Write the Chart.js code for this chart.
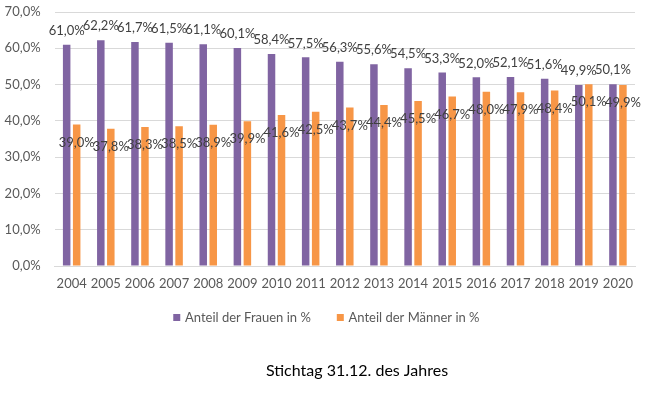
<!DOCTYPE html>
<html>
<head>
<meta charset="utf-8">
<script src="https://cdn.jsdelivr.net/npm/chart.js@4"></script>
<style>
html,body{margin:0;padding:0;background:#fff;}
#wrap{width:649px;height:393px;position:relative;}
</style>
</head>
<body>
<div id="wrap"><canvas id="c" width="649" height="393"></canvas></div>
<script>
const years = ['2004','2005','2006','2007','2008','2009','2010','2011','2012','2013','2014','2015','2016','2017','2018','2019','2020'];
const frauen = [61.0,62.2,61.7,61.5,61.1,60.1,58.4,57.5,56.3,55.6,54.5,53.3,52.0,52.1,51.6,49.9,50.1];
const maenner = [39.0,37.8,38.3,38.5,38.9,39.9,41.6,42.5,43.7,44.4,45.5,46.7,48.0,47.9,48.4,50.1,49.9];
const seriesNames = ['Anteil der Frauen in %','Anteil der Männer in %'];
const seriesColors = ['#8064A2','#F79646'];
const yTicks = [0,10,20,30,40,50,60,70];
const footTitle = 'Stichtag 31.12. des Jahres';

const fmt = v => v.toFixed(1).replace('.', ',') + '%';
const FONT = 'Lato, "Open Sans", sans-serif';

const labelPlugin = {
  id: 'barLabels',
  afterDatasetsDraw(chart) {
    const ctx = chart.ctx;
    ctx.save();
    ctx.font = '13px ' + FONT;
    ctx.fillStyle = '#404040';
    ctx.textAlign = 'center';
    ctx.textBaseline = 'middle';
    chart.data.datasets.forEach((ds, di) => {
      const meta = chart.getDatasetMeta(di);
      meta.data.forEach((el, i) => {
        const off = di === 0 ? -14 : 18;
        ctx.fillText(fmt(ds.data[i]), el.x, el.y + off);
      });
    });
    ctx.restore();
  }
};

const legendPlugin = {
  id: 'customLegend',
  afterDraw(chart) {
    const ctx = chart.ctx;
    ctx.save();
    ctx.font = '13px ' + FONT;
    ctx.textBaseline = 'middle';
    ctx.textAlign = 'left';
    const box = 7, gapText = 4.7, gapItem = 26, cy = 317.5, cx = 326.4;
    const items = chart.data.datasets.map(ds => ({ text: ds.label, color: ds.backgroundColor, w: ctx.measureText(ds.label).width }));
    let total = 0;
    items.forEach((it, i) => { total += box + gapText + it.w + (i ? gapItem : 0); });
    let x = cx - total / 2;
    items.forEach(it => {
      ctx.fillStyle = it.color;
      ctx.fillRect(x, cy - box / 2, box, box);
      ctx.fillStyle = '#595959';
      ctx.fillText(it.text, x + box + gapText, cy);
      x += box + gapText + it.w + gapItem;
    });
    ctx.font = '16px ' + FONT;
    ctx.fillStyle = '#000';
    ctx.textAlign = 'center';
    ctx.textBaseline = 'alphabetic';
    ctx.fillText(footTitle, 357, 376);
    ctx.restore();
  }
};

new Chart(document.getElementById('c'), {
  type: 'bar',
  data: {
    labels: years,
    datasets: [
      { label: seriesNames[0], data: frauen, backgroundColor: seriesColors[0], barPercentage: 0.75, categoryPercentage: 0.586 },
      { label: seriesNames[1], data: maenner, backgroundColor: seriesColors[1], barPercentage: 0.75, categoryPercentage: 0.586 }
    ]
  },
  options: {
    responsive: false,
    animation: false,
    devicePixelRatio: 1,
    layout: { padding: { top: 12, right: 14, left: 0, bottom: 97 } },
    plugins: {
      legend: { display: false },
      tooltip: { enabled: false },
      title: { display: false }
    },
    scales: {
      x: {
        grid: { display: false },
        border: { display: true, color: '#d9d9d9' },
        ticks: { color: '#595959', font: { family: FONT, size: 13 }, padding: 2, maxRotation: 0 },
        afterFit(s) { s.height = 30; }
      },
      y: {
        min: 0, max: 70,
        afterBuildTicks(s) { s.ticks = yTicks.map(v => ({ value: v })); },
        grid: { color: '#d9d9d9', drawTicks: true, tickLength: 12, tickColor: 'rgba(0,0,0,0)' },
        border: { display: false },
        ticks: { color: '#595959', font: { family: FONT, size: 13 }, padding: 2, callback: v => fmt(v) },
        afterFit(s) { s.width = 54.6; }
      }
    }
  },
  plugins: [labelPlugin, legendPlugin]
});
</script>
</body>
</html>
